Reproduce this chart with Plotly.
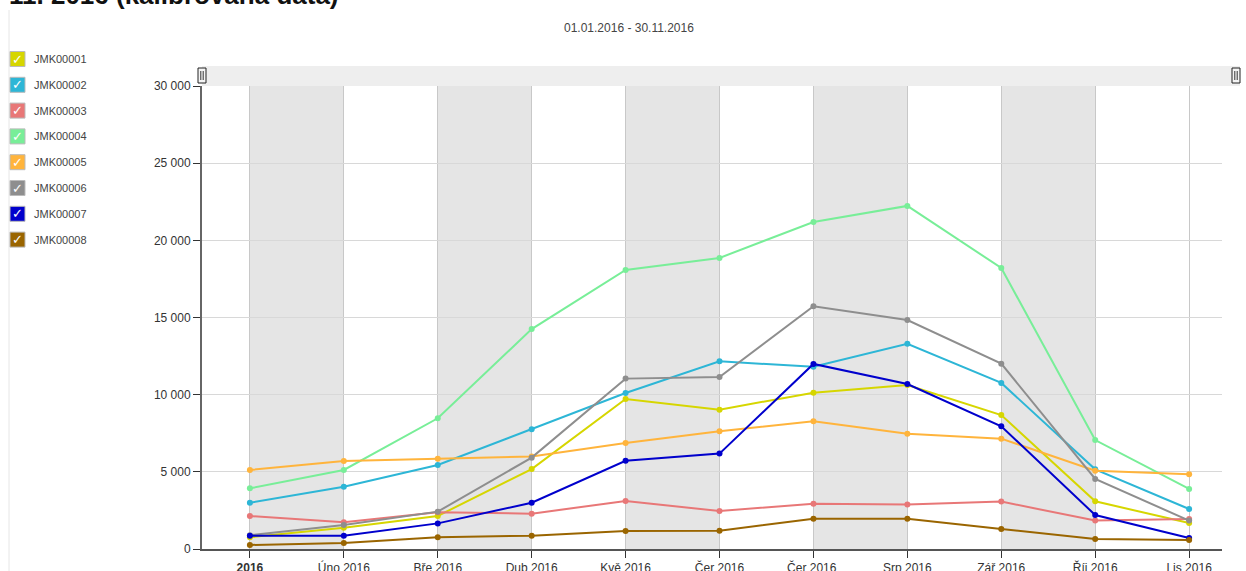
import plotly.graph_objects as go

months = ["2016", "Úno 2016", "Bře 2016", "Dub 2016", "Kvě 2016", "Čer 2016",
          "Čer 2016 ", "Srp 2016", "Zář 2016", "Říj 2016", "Lis 2016"]
y_ticks = [0, 5000, 10000, 15000, 20000, 25000, 30000]

names = ["JMK00001", "JMK00002", "JMK00003", "JMK00004",
         "JMK00005", "JMK00006", "JMK00007", "JMK00008"]
colors = ["#d6d600", "#2db6d6", "#e87777", "#78ee98",
          "#ffb43c", "#8e8e8e", "#0000cc", "#9a6500"]

jmk01 = [760, 1380, 2140, 5180, 9720, 9030, 10130, 10630, 8680, 3090, 1680]
jmk02 = [3000, 4040, 5440, 7760, 10110, 12160, 11810, 13300, 10760, 5160, 2590]
jmk03 = [2140, 1730, 2380, 2290, 3110, 2460, 2940, 2890, 3070, 1840, 1940]
jmk04 = [3930, 5120, 8470, 14250, 18080, 18860, 21190, 22230, 18210, 7060, 3890]
jmk05 = [5120, 5700, 5850, 6000, 6870, 7630, 8270, 7470, 7150, 5070, 4840]
jmk06 = [890, 1560, 2420, 5920, 11040, 11140, 15730, 14840, 12010, 4540, 1840]
jmk07 = [860, 860, 1660, 3000, 5720, 6180, 11990, 10690, 7950, 2200, 710]
jmk08 = [260, 390, 760, 860, 1170, 1190, 1960, 1960, 1300, 650, 580]
series = [jmk01, jmk02, jmk03, jmk04, jmk05, jmk06, jmk07, jmk08]

W, H = 1246, 571
L, R, T, B = 202, 1222, 86, 549


def px(x):
    return (x - L) / (R - L)


def py(y):
    return (B - y) / (B - T)


fig = go.Figure()
xs = list(range(len(months)))

for name, col, vals in zip(names, colors, series):
    fig.add_trace(go.Scatter(
        x=xs, y=vals, name=name, mode="lines+markers",
        line=dict(color=col, width=2),
        marker=dict(color=col, size=6),
        showlegend=False,
    ))

shapes = []
# alternating bands
for i in range(0, len(months) - 1, 2):
    shapes.append(dict(type="rect", xref="x", yref="paper", x0=i, x1=i + 1,
                       y0=0, y1=1, fillcolor="#e5e5e5", line=dict(width=0),
                       layer="below"))
# scrollbar
shapes.append(dict(type="rect", xref="paper", yref="paper",
                   x0=px(202), x1=px(1240), y0=py(86), y1=py(66),
                   fillcolor="#eeeeee", line=dict(width=0)))
for hx in (202, 1236):
    shapes.append(dict(type="rect", xref="paper", yref="paper",
                       x0=px(hx - 4), x1=px(hx + 4), y0=py(83), y1=py(68),
                       fillcolor="#f4f4f4", line=dict(color="#222", width=1)))
    for dx in (-1.2, 1.2):
        shapes.append(dict(type="line", xref="paper", yref="paper",
                           x0=px(hx + dx), x1=px(hx + dx), y0=py(80), y1=py(71),
                           line=dict(color="#333", width=1)))
# left thin separator
shapes.append(dict(type="line", xref="paper", yref="paper",
                   x0=px(9), x1=px(9), y0=py(10), y1=py(575),
                   line=dict(color="#e6e6e6", width=1)))

annotations = []
# title (cut by the top edge)
annotations.append(dict(text="<b>11. 2016 (kalibrovaná data)</b>", xref="paper", yref="paper",
                        x=px(7), y=py(-5), xanchor="left", yanchor="middle",
                        showarrow=False, font=dict(size=26, color="#111", family="Liberation Sans, Arial")))
annotations.append(dict(text="01.01.2016 - 30.11.2016", xref="paper", yref="paper",
                        x=px(562), y=py(28), xanchor="left", yanchor="middle",
                        showarrow=False, font=dict(size=12, color="#444", family="Liberation Sans, Arial")))

# custom legend with checkboxes
for k, (name, col) in enumerate(zip(names, colors)):
    cy = 59 + k * 25.8
    shapes.append(dict(type="rect", xref="paper", yref="paper",
                       x0=px(10), x1=px(25), y0=py(cy + 7.5), y1=py(cy - 7.5),
                       fillcolor=col, line=dict(color="#bbbbbb", width=1)))
    annotations.append(dict(text="<b>✓</b>", xref="paper", yref="paper",
                            x=px(17.5), y=py(cy), xanchor="center", yanchor="middle",
                            showarrow=False, font=dict(size=13, color="white", family="DejaVu Sans")))
    annotations.append(dict(text=name, xref="paper", yref="paper",
                            x=px(32), y=py(cy), xanchor="left", yanchor="middle",
                            showarrow=False, font=dict(size=11, color="#444", family="Liberation Sans, Arial")))

ticktext = ["<b>" + months[0] + "</b>"] + months[1:]

fig.update_layout(
    width=W, height=H,
    margin=dict(l=L, r=W - R, t=T, b=H - B, pad=0, autoexpand=False),
    paper_bgcolor="white", plot_bgcolor="white",
    separators=", ",
    shapes=shapes, annotations=annotations,
    font=dict(family="Liberation Sans, Arial", size=12, color="#333"),
    xaxis=dict(
        range=[-0.51, 10.35], tickmode="array", tickvals=xs, ticktext=ticktext,
        showgrid=True, gridcolor="#c8c8c8", gridwidth=1,
        showline=True, linecolor="#555", linewidth=2,
        ticks="outside", ticklen=7, tickcolor="#333", tickwidth=1,
        zeroline=False, fixedrange=True, automargin=False,
        tickfont=dict(size=12, color="#333"),
    ),
    yaxis=dict(
        range=[0, 30000], tickmode="array", tickvals=y_ticks,
        tickformat=",d",
        showgrid=True, gridcolor="#d8d8d8", gridwidth=1,
        showline=True, linecolor="#666", linewidth=2,
        ticks="outside", ticklen=7, tickcolor="#333", tickwidth=1,
        zeroline=False, fixedrange=True, automargin=False,
        tickfont=dict(size=12, color="#333"),
    ),
)

fig.write_html("out.html", config={"displayModeBar": False, "responsive": False},
               post_script="document.body.style.margin='0px';document.body.style.overflow='hidden';")
